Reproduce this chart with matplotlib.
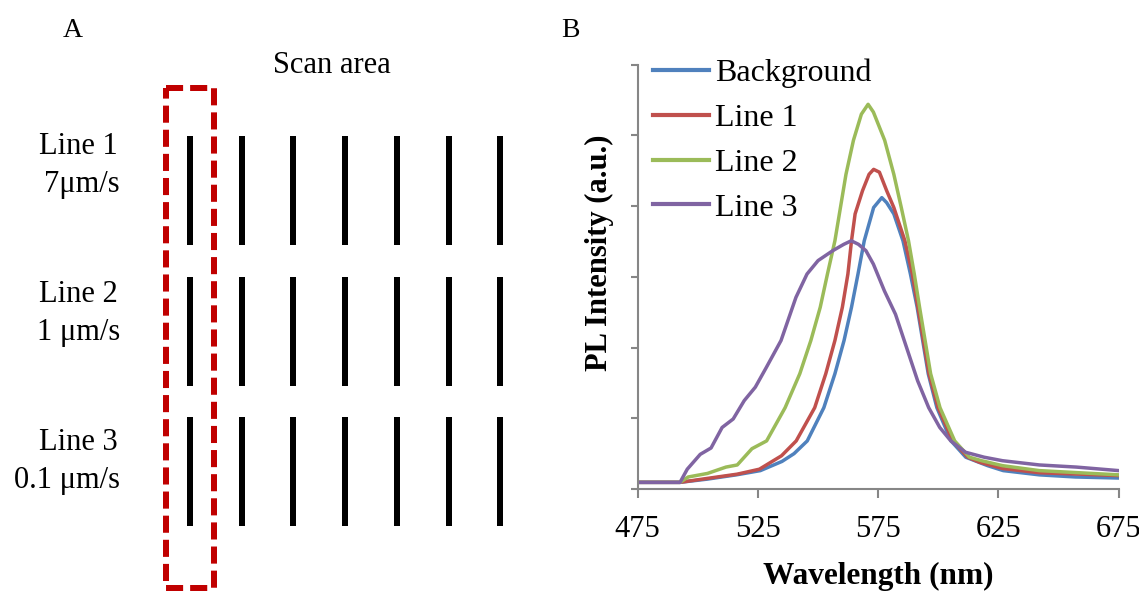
import numpy as np
import matplotlib.pyplot as plt
from matplotlib.patches import Rectangle

plt.rcParams['font.family'] = ['Liberation Serif', 'DejaVu Serif']

# ---- data ----
wl_bg = [475, 492.6, 504, 516, 526, 535, 540, 545.5, 552.4, 557.0, 560.8, 563.9, 566.6, 569.2,
         573.1, 576.5, 578.5, 581.5, 585.3, 588.4, 591.2, 593.5, 595.8, 599.4, 605.3, 611.4,
         620.5, 627, 642, 657, 675]
pl_bg = [0.094, 0.094, 0.14, 0.20, 0.26, 0.39, 0.50, 0.68, 1.15, 1.63, 2.10, 2.57, 3.04, 3.51,
         3.98, 4.12, 4.05, 3.89, 3.51, 3.04, 2.57, 2.10, 1.63, 1.15, 0.68, 0.45,
         0.33, 0.26, 0.20, 0.17, 0.155]

wl_l1 = [475, 492.6, 504, 516.4, 525.6, 534.8, 540.9, 548.6, 553.2, 557.0, 560.1, 562.4,
         563.9, 565.4, 568.5, 571.2, 573.1, 575.5, 578.5, 581.5, 586.1, 589.2, 591.5, 593.8,
         596.1, 599.9, 606.0, 612.2, 617, 626.7, 642, 675]
pl_l1 = [0.094, 0.094, 0.15, 0.21, 0.28, 0.47, 0.68, 1.15, 1.63, 2.10, 2.57, 3.04,
         3.51, 3.89, 4.22, 4.45, 4.52, 4.48, 4.22, 3.98, 3.51, 3.04, 2.57, 2.10,
         1.63, 1.15, 0.68, 0.45, 0.38, 0.29, 0.23, 0.19]

wl_l2 = [475, 492.6, 496, 504, 511.7, 516.4, 522.5, 528.6, 536.3, 542.4, 547.0, 550.9,
         553.9, 557.0, 559.3, 561.6, 564.7, 568, 570.8, 573, 577.7, 581.5, 584.6, 587.6,
         590.0, 592.2, 594.5, 596.8, 600.7, 606.8, 612.9, 618, 626.7, 642, 675]
pl_l2 = [0.094, 0.094, 0.17, 0.22, 0.31, 0.34, 0.57, 0.68, 1.15, 1.63, 2.10, 2.57,
         3.04, 3.51, 3.98, 4.45, 4.93, 5.30, 5.44, 5.33, 4.93, 4.45, 3.98, 3.51,
         3.04, 2.57, 2.10, 1.63, 1.15, 0.68, 0.45, 0.40, 0.33, 0.26, 0.2]

wl_l3 = [475, 492.6, 495.6, 501, 505.5, 510.1, 514.7, 519.3, 523.9, 528.5, 534.6, 540.8,
         545.4, 550, 556.1, 560.7, 563.8, 566.8, 569.9, 573, 577.6, 582.2, 586.8, 591.4, 596,
         600.6, 605.2, 611.3, 619, 626.7, 642, 657.4, 675]
pl_l3 = [0.094, 0.094, 0.28, 0.49, 0.58, 0.87, 0.99, 1.25, 1.44, 1.72, 2.10, 2.71,
         3.04, 3.23, 3.37, 3.46, 3.51, 3.46, 3.37, 3.18, 2.80, 2.47, 2.0, 1.53, 1.15,
         0.87, 0.68, 0.52, 0.45, 0.40, 0.34, 0.31, 0.26]

series = ['Background', 'Line 1', 'Line 2', 'Line 3']
colors = ['#4F81BD', '#C0504D', '#9BBB59', '#8064A2']
xticks = [475, 525, 575, 625, 675]

row_names = ['Line 1', 'Line 2', 'Line 3']
row_speeds = ['7\u03bcm/s', '1 \u03bcm/s', '0.1 \u03bcm/s']
n_bars = 7

W, H = 1139, 593
fig = plt.figure(figsize=(W / 100, H / 100), dpi=100)

# ---- panel A: schematic drawn in pixel coords ----
ax0 = fig.add_axes([0, 0, 1, 1])
ax0.set_xlim(0, W)
ax0.set_ylim(H, 0)
ax0.axis('off')

px = 100 / 72.0  # px per pt
bar_x = 190 + 51.7 * np.arange(n_bars)
for i in range(len(row_names)):
    top = 136 + 140.5 * i
    ax0.vlines(bar_x, top, top + 109, color='black', lw=6 / px)
    ax0.text(118, 154 + 148 * i, row_names[i], fontsize=22, ha='right', va='baseline')
    ax0.text(120, 192 + 148 * i, row_speeds[i], fontsize=22, ha='right', va='baseline')

box = Rectangle((166, 88), 48.3, 500, fill=False, ec='#C00000', lw=6 / px,
                ls=(0, (2.85, 1.17)), joinstyle='miter')
ax0.add_patch(box)
ax0.text(331.5, 72.7, 'Scan area', fontsize=22, ha='center', va='baseline')
ax0.text(63, 36.7, 'A', fontsize=20, ha='left', va='baseline')
ax0.text(561, 36.7, 'B', fontsize=20, ha='left', va='baseline')

# ---- panel B: spectra ----
ax = fig.add_axes([637.7 / W, (H - 489) / H, 481 / W, 424.3 / H])
data = [(wl_bg, pl_bg), (wl_l1, pl_l1), (wl_l2, pl_l2), (wl_l3, pl_l3)]
for (x, y), name, c in zip(data, series, colors):
    ax.plot(x, y, color=c, lw=2.5, label=name, solid_joinstyle='round')

ax.set_xlim(475, 675)
ax.set_ylim(0, 6)
ax.set_xticks(xticks)
ax.set_yticks(np.arange(0, 7))
ax.set_yticklabels([])
for s in ['top', 'right']:
    ax.spines[s].set_visible(False)
for s in ['left', 'bottom']:
    ax.spines[s].set_color('#868686')
    ax.spines[s].set_linewidth(1.5)
ax.tick_params(axis='x', direction='out', length=6.5, width=1.5, color='#868686',
               labelsize=22, pad=12)
ax.tick_params(axis='y', direction='out', length=5, width=1.5, color='#868686')

ax.set_xlabel('Wavelength (nm)', fontsize=22.5, fontweight='bold')
ax.xaxis.set_label_coords(0.5, -0.172)
ax.set_ylabel('PL Intensity (a.u.)', fontsize=22, fontweight='bold')
ax.yaxis.set_label_coords(-0.05, 0.557)

leg = ax.legend(loc='upper left', bbox_to_anchor=(653 / W, (H - 59) / H),
                bbox_transform=fig.transFigure, frameon=False, fontsize=23,
                handlelength=1.75, handletextpad=0.2, labelspacing=0.48, borderpad=0,
                borderaxespad=0)
for h in leg.get_lines():
    h.set_linewidth(3)

fig.savefig('out.png', dpi=100)
